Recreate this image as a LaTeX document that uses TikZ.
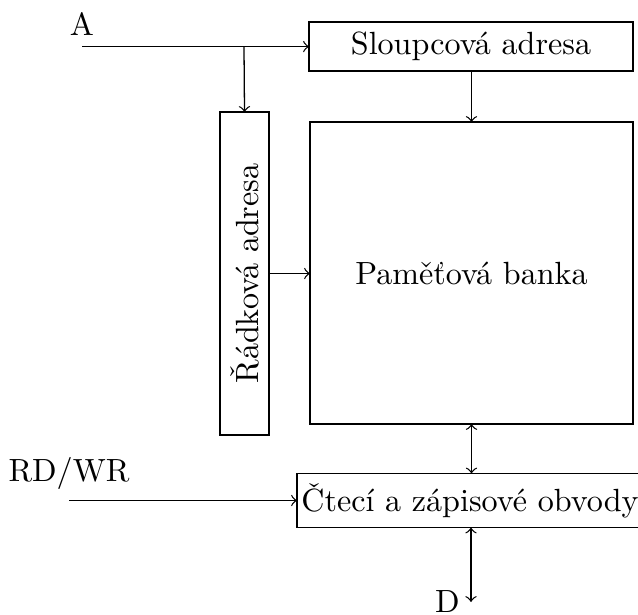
\documentclass[tikz,border=0pt]{standalone}
\begin{document}
\begin{tikzpicture}[x=0.3115pt,y=-0.3115pt,
  box/.style={draw,inner sep=0pt,outer sep=0pt},
  lbl/.style={inner sep=3.33pt}]
\useasboundingbox (0,0) rectangle (638,615);
\node[box,minimum width={324*0.3115pt},minimum height={49*0.3115pt}] (sa) at (471,46.6) {Sloupcová adresa};
\node[box,minimum width={323*0.3115pt},minimum height={302*0.3115pt}] (pb) at (471.5,273) {Paměťová banka};
\node[box,minimum width={323*0.3115pt},minimum height={49*0.3115pt},rotate=90] (ra) at (244.5,273.5) {Řádková adresa};
\node[box,minimum width={346*0.3115pt},minimum height={54*0.3115pt}] (ct) at (470,500.5) {Čtecí a zápisové obvody};
\coordinate (a0) at (82,46.6);
\coordinate (br) at (244,46.6);
\coordinate (rw) at (69,500.5);
\coordinate (d0) at (471,602);
\node[lbl,anchor=south] (la) at (a0) {A};
\node[lbl,anchor=south] (lrw) at (rw) {RD/WR};
\node[lbl,anchor=east] (ld) at (d0) {D};
\draw[->] (a0) -- (sa.west);
\draw[->] (br) -- (ra.east);
\draw[->] (sa.south -| pb.north) -- (pb.north);
\draw[->] (ra.south) -- (ra.south -| pb.west);
\draw[<->] (pb.south) -- (pb.south |- ct.north);
\draw[->] (rw) -- (ct.west);
\draw[<->] (ct.south -| d0) -- (d0);
\end{tikzpicture}
\end{document}
